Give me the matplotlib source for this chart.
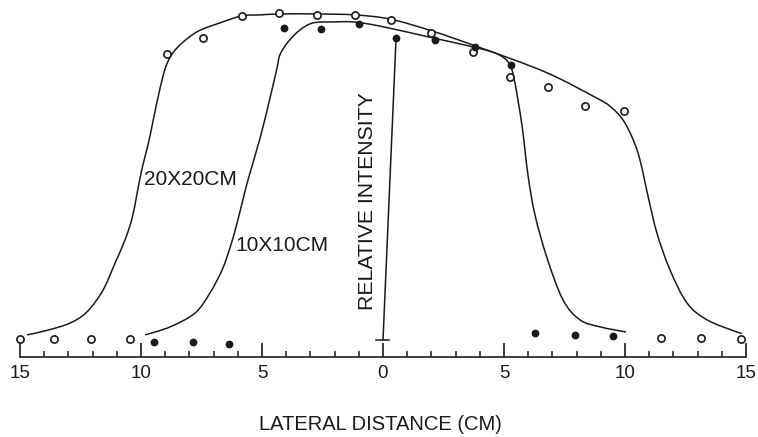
import numpy as np
import matplotlib
matplotlib.use("Agg")
import matplotlib.pyplot as plt
from matplotlib.path import Path
from matplotlib.patches import PathPatch
from matplotlib.ticker import MultipleLocator, FuncFormatter

plt.rcParams['font.family'] = ['Liberation Sans', 'DejaVu Sans']

# ==== Data (lateral distance in cm, relative intensity in %) ====

# measured points, 20x20 cm field (open circles)
open_x = [-15.0, -13.6, -12.07, -10.45, -8.93, -7.44, -5.83, -4.30, -2.73, -1.16,
          0.33, 1.98, 3.72, 5.25, 6.82, 8.35, 9.96, 11.49, 13.14, 14.79]
open_y = [0.3, 0.3, 0.3, 0.3, 89.4, 94.4, 101.3, 102.2, 101.6, 101.6,
          100.0, 95.9, 90.0, 82.2, 79.1, 73.1, 71.6, 0.6, 0.6, 0.3]

# measured points, 10x10 cm field (filled circles)
filled_x = [-9.46, -7.85, -6.36, -4.09, -2.56, -0.99, 0.54, 2.15, 3.80, 5.29,
            6.28, 7.93, 9.50]
filled_y = [-0.6, -0.6, -1.3, 97.5, 97.2, 98.8, 94.4, 93.8, 91.6, 85.9,
            2.2, 1.6, 1.3]

# hand-drawn profile curve, 20x20 cm
curve20_x = [-14.71, -13.84, -12.93, -12.23, -11.57, -11.07, -10.66, -10.37, -10.17,
             -9.96, -9.71, -9.50, -9.21, -8.93, -8.51, -7.69, -6.74, -5.83, -5.08,
             -4.26, -2.73, -1.16, 0.29, 2.02, 3.93, 6.69, 8.76, 9.42, 10.00, 10.54,
             10.95, 11.32, 11.86, 12.56, 13.39, 14.63, 14.83]
curve20_y = [1.6, 3.1, 5.3, 8.8, 15.6, 24.1, 31.3, 38.0, 45.5,
             53.5, 61.0, 68.5, 78.8, 86.3, 91.3, 96.3, 99.1, 101.3, 101.6,
             101.9, 101.9, 101.6, 100.3, 96.6, 91.6, 83.8, 75.9, 72.8, 67.8, 58.4,
             45.0, 33.4, 21.9, 11.6, 6.3, 2.5, 2.2]

# hand-drawn profile curve, 10x10 cm
curve10_x = [-9.83, -8.80, -7.77, -7.15, -6.65, -6.31, -6.03, -5.79, -5.58, -5.08,
             -4.67, -4.38, -4.26, -3.93, -3.43, -2.89, -2.07, -1.24, -0.12, 2.07,
             3.72, 4.63, 5.17, 5.41, 5.74, 5.99, 6.28, 6.78, 7.44, 8.14, 8.97, 10.04]
curve10_y = [1.6, 4.1, 8.4, 14.7, 21.9, 29.1, 36.6, 43.8, 50.0, 63.1,
             75.6, 85.0, 89.1, 93.1, 96.9, 99.1, 99.4, 99.4, 98.1, 94.4,
             91.6, 89.7, 86.9, 81.9, 67.2, 51.6, 39.1, 25.6, 12.5, 6.3, 4.1, 2.5]

# relative intensity indicator line (bottom, top)
axis_line_x = [0.0, 0.54]
axis_line_y = [0.0, 94.4]

ink = '#1a1a1a'


def smooth_path(xs, ys):
    """Bezier path through the read points (Catmull-Rom tangents), like a french curve."""
    p = np.column_stack([xs, ys]).astype(float)
    p = np.vstack([p[0], p, p[-1]])
    verts = [p[1]]
    codes = [Path.MOVETO]
    for i in range(1, len(p) - 2):
        c1 = p[i] + (p[i + 1] - p[i - 1]) / 6.0
        c2 = p[i + 1] - (p[i + 2] - p[i]) / 6.0
        verts += [c1, c2, p[i + 1]]
        codes += [Path.CURVE4] * 3
    return Path(verts, codes)


# ==== Plot ====

fig = plt.figure(figsize=(7.58, 4.37), dpi=100)
ax = fig.add_axes([20 / 758, 80 / 437, 726 / 758, 352 / 437])
ax.set_xlim(-15, 15)
ax.set_ylim(-5.31, 104.7)

for cx, cy in [(curve20_x, curve20_y), (curve10_x, curve10_y)]:
    ax.add_patch(PathPatch(smooth_path(cx, cy), fill=False, edgecolor=ink,
                           lw=1.1, clip_on=False))

ax.plot(open_x, open_y, 'o', ms=5.2, mfc='white', mec=ink, mew=1.2,
        clip_on=False, zorder=3)
ax.plot(filled_x, filled_y, 'o', ms=4.6, mfc=ink, mec=ink,
        clip_on=False, zorder=3)

ax.plot(axis_line_x, axis_line_y, color=ink, lw=1.1)
ax.plot([-0.3, 0.25], [0, 0], color=ink, lw=1.1)

ax.text(-0.65, 43.4, 'RELATIVE INTENSITY', rotation=90, ha='center', va='center',
        fontsize=15.3, color=ink)
ax.text(-7.97, 50.3, '20X20CM', ha='center', va='center', fontsize=15, color=ink)
ax.text(-4.17, 29.5, '10X10CM', ha='center', va='center', fontsize=15, color=ink)

# spines and ticks
for s in ['top', 'right', 'left']:
    ax.spines[s].set_visible(False)
ax.spines['bottom'].set_color(ink)
ax.spines['bottom'].set_linewidth(1.2)
ax.set_yticks([])
ax.xaxis.set_major_locator(MultipleLocator(5))
ax.xaxis.set_minor_locator(MultipleLocator(1))
ax.xaxis.set_major_formatter(FuncFormatter(lambda v, p: f"{abs(v):.0f}"))
ax.tick_params(axis='x', which='major', direction='in', length=10, width=1.2,
               pad=6, labelsize=13.5, colors=ink)
ax.tick_params(axis='x', which='minor', direction='in', length=4.5, width=1.1,
               colors=ink)

fig.text(380 / 758, 1 - 425 / 437, 'LATERAL DISTANCE (CM)', ha='center',
         va='center', fontsize=14.5, color=ink)

fig.savefig('out.png', dpi=100, facecolor='white')
